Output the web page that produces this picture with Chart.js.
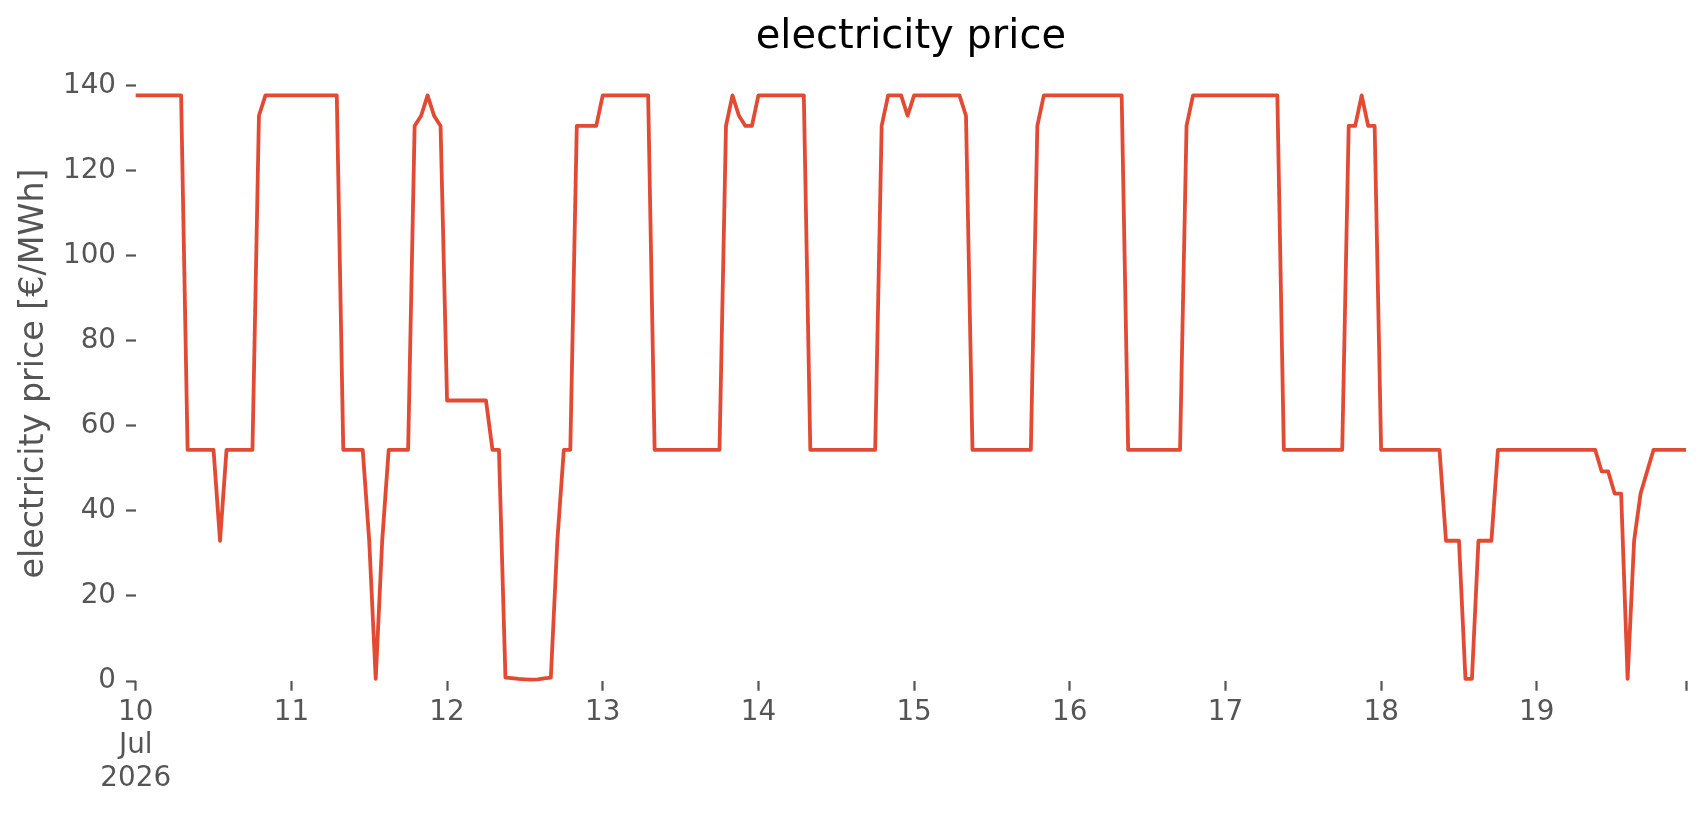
<!DOCTYPE html>
<html lang="en">
<head>
<meta charset="UTF-8">
<title>electricity price</title>
<script src="https://cdn.jsdelivr.net/npm/chart.js"></script>
<style>
  html, body { margin: 0; padding: 0; background: #ffffff; }
  #wrap { width: 1706px; height: 815px; }
</style>
</head>
<body>
<div id="wrap"><canvas id="priceChart" width="1706" height="815"></canvas></div>
<script>
// hourly electricity price [€/MWh], one array per day, 10-19 Jul 2026
const day10 = [137.8, 137.8, 137.8, 137.8, 137.8, 137.8, 137.8, 137.8, 54.4, 54.4, 54.4, 54.4,
               54.4, 33.0, 54.4, 54.4, 54.4, 54.4, 54.4, 133.0, 137.8, 137.8, 137.8, 137.8];
const day11 = [137.8, 137.8, 137.8, 137.8, 137.8, 137.8, 137.8, 137.8, 54.4, 54.4, 54.4, 54.4,
               33.0, 0.5, 33.0, 54.4, 54.4, 54.4, 54.4, 130.6, 133.0, 137.8, 133.0, 130.6];
const day12 = [66.0, 66.0, 66.0, 66.0, 66.0, 66.0, 66.0, 54.4, 54.4, 0.8, 0.7, 0.5,
               0.4, 0.3, 0.4, 0.6, 0.8, 33.0, 54.4, 54.4, 130.6, 130.6, 130.6, 130.6];
const day13 = [137.8, 137.8, 137.8, 137.8, 137.8, 137.8, 137.8, 137.8, 54.4, 54.4, 54.4, 54.4,
               54.4, 54.4, 54.4, 54.4, 54.4, 54.4, 54.4, 130.6, 137.8, 133.0, 130.6, 130.6];
const day14 = [137.8, 137.8, 137.8, 137.8, 137.8, 137.8, 137.8, 137.8, 54.4, 54.4, 54.4, 54.4,
               54.4, 54.4, 54.4, 54.4, 54.4, 54.4, 54.4, 130.6, 137.8, 137.8, 137.8, 133.0];
const day15 = [137.8, 137.8, 137.8, 137.8, 137.8, 137.8, 137.8, 137.8, 133.0, 54.4, 54.4, 54.4,
               54.4, 54.4, 54.4, 54.4, 54.4, 54.4, 54.4, 130.6, 137.8, 137.8, 137.8, 137.8];
const day16 = [137.8, 137.8, 137.8, 137.8, 137.8, 137.8, 137.8, 137.8, 137.8, 54.4, 54.4, 54.4,
               54.4, 54.4, 54.4, 54.4, 54.4, 54.4, 130.6, 137.8, 137.8, 137.8, 137.8, 137.8];
const day17 = [137.8, 137.8, 137.8, 137.8, 137.8, 137.8, 137.8, 137.8, 137.8, 54.4, 54.4, 54.4,
               54.4, 54.4, 54.4, 54.4, 54.4, 54.4, 54.4, 130.6, 130.6, 137.8, 130.6, 130.6];
const day18 = [54.4, 54.4, 54.4, 54.4, 54.4, 54.4, 54.4, 54.4, 54.4, 54.4, 33.0, 33.0,
               33.0, 0.5, 0.5, 33.0, 33.0, 33.0, 54.4, 54.4, 54.4, 54.4, 54.4, 54.4];
const day19 = [54.4, 54.4, 54.4, 54.4, 54.4, 54.4, 54.4, 54.4, 54.4, 54.4, 49.3, 49.3,
               44.1, 44.1, 0.5, 33.0, 44.1, 49.3, 54.4, 54.4, 54.4, 54.4, 54.4, 54.4];

// tick labels
const dayLabels = ['10', '11', '12', '13', '14', '15', '16', '17', '18', '19'];
const firstLabel = ['10', 'Jul', '2026'];
const yTicks = [0, 20, 40, 60, 80, 100, 120, 140];

const FONT = 'DejaVu Sans';
const GREY = '#555555';

const prices = [].concat(day10, day11, day12, day13, day14, day15, day16, day17, day18, day19);
const points = prices.map((v, i) => ({ x: i, y: v }));
const lastHour = prices.length - 1;
const xTicks = dayLabels.map((d, i) => i * 24).concat([lastHour]);

const ctx = document.getElementById('priceChart').getContext('2d');
new Chart(ctx, {
    type: 'line',
    data: {
        datasets: [{
            data: points,
            borderColor: '#E24A33',
            borderWidth: 3.8,
            borderJoinStyle: 'round',
            pointRadius: 0,
            tension: 0,
            fill: false,
            clip: 6
        }]
    },
    options: {
        responsive: false,
        animation: false,
        devicePixelRatio: 1,
        layout: { padding: { left: 0, right: 20, top: 0, bottom: 0 } },
        plugins: {
            legend: { display: false },
            tooltip: { enabled: false },
            title: {
                display: true,
                text: 'electricity price',
                color: '#000000',
                fullSize: false,
                font: { family: FONT, size: 40, weight: 'normal' },
                padding: { top: 14, bottom: 4 }
            }
        },
        scales: {
            x: {
                type: 'linear',
                min: 0,
                max: lastHour,
                border: { display: false },
                grid: { drawOnChartArea: false, tickLength: 9.7, tickColor: GREY, tickWidth: 2.2 },
                ticks: {
                    autoSkip: false,
                    maxRotation: 0,
                    minRotation: 0,
                    padding: 5,
                    color: GREY,
                    font: { family: FONT, size: 27.8 },
                    callback: (value) => {
                        if (value === 0) return firstLabel;
                        if (value % 24 === 0) return dayLabels[value / 24];
                        return '';
                    }
                },
                afterBuildTicks: (scale) => { scale.ticks = xTicks.map(v => ({ value: v })); },
                afterFit: (scale) => { scale.height = 134; }
            },
            y: {
                min: 0,
                max: 144.7,
                border: { display: false },
                grid: { drawOnChartArea: false, tickLength: 9.7, tickColor: GREY, tickWidth: 2.2 },
                ticks: {
                    padding: 10,
                    color: GREY,
                    font: { family: FONT, size: 27.8 }
                },
                title: {
                    display: true,
                    text: 'electricity price [€/MWh]',
                    color: GREY,
                    font: { family: FONT, size: 33.3 },
                    padding: { top: 14, bottom: 0 }
                },
                afterBuildTicks: (scale) => { scale.ticks = yTicks.map(v => ({ value: v })); },
                afterFit: (scale) => { scale.width = 135.7; }
            }
        }
    }
});
</script>
</body>
</html>
